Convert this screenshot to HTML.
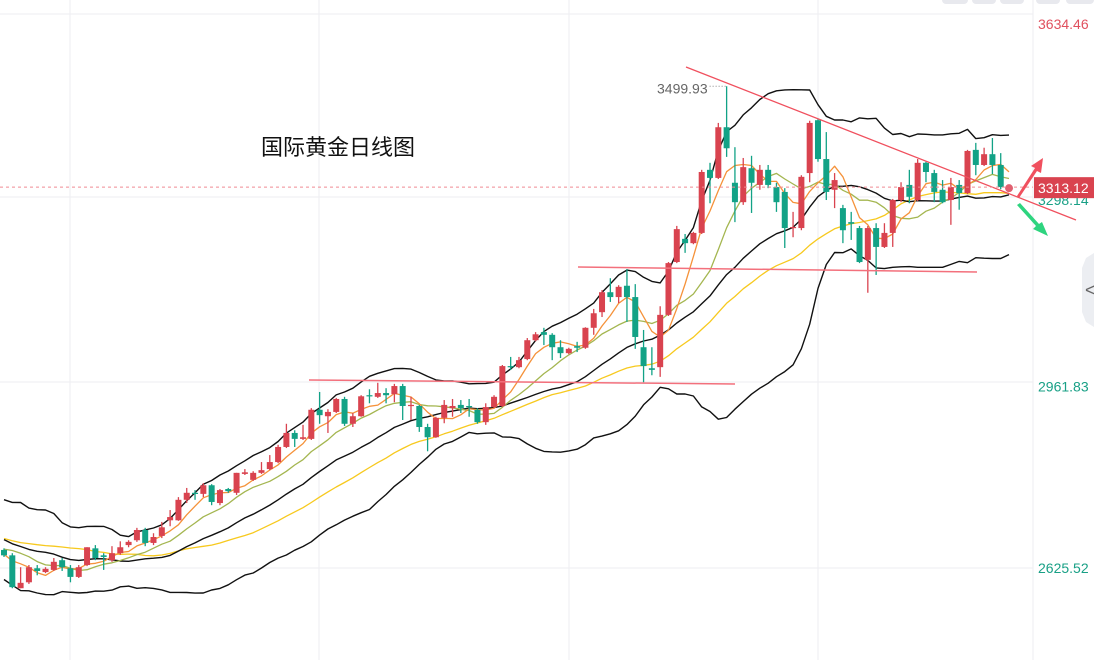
<!DOCTYPE html>
<html><head><meta charset="utf-8">
<style>
html,body{margin:0;padding:0;background:#fff;width:1094px;height:660px;overflow:hidden;font-family:"Liberation Sans","Noto Sans CJK SC",sans-serif;}
#chart{position:absolute;left:0;top:0;}
</style></head>
<body>
<svg id="chart" width="1094" height="660" xmlns="http://www.w3.org/2000/svg">
  <g id="grid"></g>
  <g id="tabs">
    <rect x="942" y="-6" width="26" height="10" rx="4" fill="#e8e9ee"/>
    <rect x="972" y="-6" width="24" height="10" rx="4" fill="#e8e9ee"/>
    <rect x="1000" y="-6" width="24" height="10" rx="4" fill="#e8e9ee"/>
    <rect x="1036" y="-6" width="24" height="10" rx="4" fill="#e8e9ee"/>
    <rect x="1066" y="-6" width="28" height="10" rx="4" fill="#e8e9ee"/>
  </g>
  <text x="261" y="155" font-size="22" fill="#111" font-family="Liberation Sans, Noto Sans CJK SC, sans-serif">国际黄金日线图</text>
  <g id="inds"></g>
  <g id="candles"></g>
  <g id="annot"></g>
  <g id="axis"></g>
  <g>
    <polygon points="1094,253 1086,258 1082,268 1082,312 1086,322 1094,327" fill="#eceef2"/>
    <text x="1085" y="296" font-size="18" fill="#666">&lt;</text>
  </g>
</svg>
<script>
const priorCloses=[2720,2745,2700,2735,2690,2660,2705,2740,2700,2655,2630,2615,2650,2690,2710,2685,2650,2625,2660,2670];
const opens=[2659,2649,2588,2599,2625,2618,2622,2640,2625,2609,2631,2662,2649,2640,2653,2668,2677,2696,2672,2685,2714,2714,2752,2765,2763,2779,2746,2772,2765,2800,2789,2802,2809,2822,2850,2876,2865,2865,2919,2907,2915,2939,2893,2907,2946,2943,2950,2948,2963,2926,2926,2887,2868,2904,2922,2928,2926,2919,2896,2924,2926,3000,2998,3013,3048,3063,3058,3035,3024,3037,3034,3071,3100,3137,3128,3149,3128,3035,2996,2998,3095,3193,3236,3228,3247,3364,3349,3443,3340,3304,3367,3336,3364,3332,3323,3256,3256,3358,3456,3384,3327,3293,3267,3256,3197,3256,3221,3247,3308,3336,3308,3377,3358,3327,3308,3336,3321,3401,3373,3393,3373,3334];
const highs=[2662,2653,2627,2631,2631,2627,2644,2644,2631,2631,2664,2668,2653,2666,2675,2677,2700,2700,2690,2711,2733,2757,2774,2770,2783,2781,2772,2774,2802,2809,2805,2822,2835,2854,2893,2881,2891,2922,2952,2920,2941,2943,2913,2946,2957,2969,2959,2967,2967,2943,2928,2893,2906,2937,2939,2937,2939,2922,2931,2946,3002,3017,3017,3052,3063,3071,3061,3048,3034,3045,3072,3106,3141,3163,3150,3180,3152,3067,3035,3111,3193,3260,3245,3249,3364,3377,3451,3519,3406,3386,3390,3373,3373,3340,3330,3286,3354,3455,3458,3434,3358,3299,3286,3260,3260,3265,3265,3310,3341,3364,3384,3379,3364,3345,3349,3345,3401,3414,3405,3423,3395,3336];
const lows=[2646,2588,2588,2596,2612,2616,2620,2620,2599,2607,2629,2640,2622,2637,2650,2664,2674,2666,2668,2681,2703,2713,2746,2752,2757,2742,2742,2765,2761,2798,2787,2800,2807,2820,2848,2850,2863,2863,2893,2876,2913,2889,2887,2906,2931,2941,2931,2933,2900,2900,2878,2842,2867,2894,2906,2913,2906,2893,2891,2922,2924,2993,2996,3011,3046,3039,3011,3015,3022,3026,3032,3058,3091,3119,3117,3082,3032,2970,2983,2980,3093,3191,3210,3226,3245,3302,3347,3388,3267,3299,3284,3327,3330,3286,3219,3239,3252,3341,3379,3308,3293,3228,3234,3191,3136,3169,3219,3221,3304,3302,3306,3341,3304,3302,3262,3290,3319,3354,3371,3356,3328,3325];
const closes=[2649,2590,2598,2627,2620,2624,2637,2627,2609,2627,2664,2644,2646,2653,2664,2674,2696,2672,2683,2701,2720,2752,2765,2763,2779,2748,2770,2768,2802,2803,2802,2807,2822,2850,2876,2865,2868,2919,2909,2915,2939,2893,2907,2944,2944,2950,2946,2963,2926,2928,2887,2868,2904,2928,2926,2922,2924,2896,2924,2943,3000,2998,3011,3048,3059,3058,3035,3024,3032,3034,3071,3098,3137,3128,3147,3128,3054,3000,2993,3095,3191,3254,3228,3247,3360,3349,3443,3404,3304,3369,3340,3364,3336,3304,3256,3258,3351,3451,3384,3323,3345,3252,3264,3193,3256,3221,3247,3308,3332,3314,3377,3360,3323,3304,3332,3321,3399,3373,3393,3373,3332,3330];
const axisLabels=["3634.46","2961.83","2625.52"];
const axisValues=[3634.46,2961.83,2625.52];
const highLabel="3499.93";
const lastLabel="3313.12";

const NS="http://www.w3.org/2000/svg";
function el(tag,attrs,parent){const e=document.createElementNS(NS,tag);for(const k in attrs)e.setAttribute(k,attrs[k]);parent.appendChild(e);return e;}
const yTop=24,yBot=568,pTop=3634.46,pBot=2625.52;
function yS(p){return yTop+(pTop-p)*(yBot-yTop)/(pTop-pBot);}
const x0=4,step=8.306;
function xS(i){return x0+i*step;}

const grid=document.getElementById('grid');
[70,319,569,818].forEach(x=>{const l=el('line',{x1:x,y1:0,x2:x,y2:660,stroke:'#f0f0f3','stroke-width':1.2},grid);

});
[14,197,382,568].forEach(y=>{const l=el('line',{x1:0,y1:y,x2:1033,y2:y,stroke:'#f0f0f3','stroke-width':1.2},grid);

});
const sep=el('line',{x1:1033,y1:0,x2:1033,y2:660,stroke:'#eeeef2','stroke-width':1},grid);



// indicators (with prior history for warm-up)
const all=priorCloses.concat(closes),P=priorCloses.length;
function ma(n){return closes.map((c,j)=>{const i=j+P;const s=Math.max(0,i-n+1);let t=0;for(let k=s;k<=i;k++)t+=all[k];return t/(i-s+1);});}
function sd(n,m){return closes.map((c,j)=>{const i=j+P;const s=Math.max(0,i-n+1);let t=0;for(let k=s;k<=i;k++)t+=(all[k]-m[j])**2;return Math.sqrt(t/(i-s+1));});}
const m5=ma(5),m10=ma(10),m20=ma(20),m30=ma(30),s20=sd(20,m20);
const up=m20.map((v,i)=>v+2*s20[i]),dn=m20.map((v,i)=>v-2*s20[i]);
const inds=document.getElementById('inds');
function pl(arr,color,w,name){const d=arr.map((v,i)=>(i?'L':'M')+xS(i).toFixed(1)+','+yS(v).toFixed(1)).join('');
const p=el('path',{d:d,fill:'none',stroke:color,'stroke-width':w,'stroke-linejoin':'round'},inds);

}
pl(m30,'#f7c91e',1.3,'ma30-line');
pl(up,'#111',1.4,'boll-upper');
pl(dn,'#111',1.4,'boll-lower');
pl(m20,'#111',1.4,'boll-mid');
pl(m10,'#a4b650',1.3,'ma10-line');
pl(m5,'#f5923a',1.3,'ma5-line');

const cg=document.getElementById('candles');
const RED='#d9434f',GRN='#12a286';
closes.forEach((c,i)=>{const o=opens[i],isUp=c>=o,col=isUp?RED:GRN,x=xS(i);
const g=el('g',{},cg);


el('line',{x1:x,y1:yS(highs[i]),x2:x,y2:yS(lows[i]),stroke:col,'stroke-width':1.3},g);
const t=yS(Math.max(o,c)),b=yS(Math.min(o,c));
el('rect',{x:x-3,y:t,width:6,height:Math.max(1.2,b-t),fill:col},g);});

const an=document.getElementById('annot');
function ln(x1,y1,x2,y2,name,w,col){const l=el('line',{x1,y1,x2,y2,stroke:col||'#f0505e','stroke-width':w||1.3},an);

}
ln(686,67,1076,220,'trendline-descending');
ln(309,380,735,384,'support-line-lower',1.5,'#f3707c');
ln(578,267,977,272,'support-line-upper',1.5,'#f3707c');
const lastI=closes.length-1;const ly=yS(closes[lastI]);
const pd=el('line',{x1:0,y1:ly-1,x2:1033,y2:ly-1,stroke:'#f08a94','stroke-width':1,'stroke-dasharray':'3,3'},an);


const dot=el('circle',{cx:xS(lastI),cy:ly,r:4,fill:'#e06070'},an);


let hi=0;highs.forEach((h,i)=>{if(h>highs[hi])hi=i;});
const hy=yS(highs[hi]);
const hd=el('line',{x1:xS(hi)-17,y1:hy,x2:xS(hi)-1,y2:hy,stroke:'#888','stroke-width':1,'stroke-dasharray':'1,2'},an);


const ht=el('text',{x:xS(hi)-19,y:hy+7,'font-size':14,fill:'#666','text-anchor':'end'},an);
ht.textContent=highLabel;


const a1=el('polygon',{points:'1017,196 1035,168 1031,166 1043,158 1041,173 1037,171 1019,198',fill:'#f0505e'},an);


const a2=el('polygon',{points:'1017,205 1036,226 1033,229 1048,236 1042,222 1039,224 1020,203',fill:'#2ed47f'},an);



const ax=document.getElementById('axis');
axisLabels.forEach((t,i)=>{const tx=el('text',{x:1038,y:yS(axisValues[i])+5,'font-size':14,fill:i===0?'#e0505e':'#19a086'},ax);
tx.textContent=t;

});
const g2=el('text',{x:1038,y:ly+17,'font-size':14,fill:'#19a086'},ax);
g2.textContent='3298.14';


const bx=el('rect',{x:1034,y:ly-11,width:62,height:21,fill:'#d9434f'},ax);


const bt=el('text',{x:1038,y:ly+5,'font-size':14,fill:'#fff'},ax);
bt.textContent=lastLabel;


</script>
</body></html>
